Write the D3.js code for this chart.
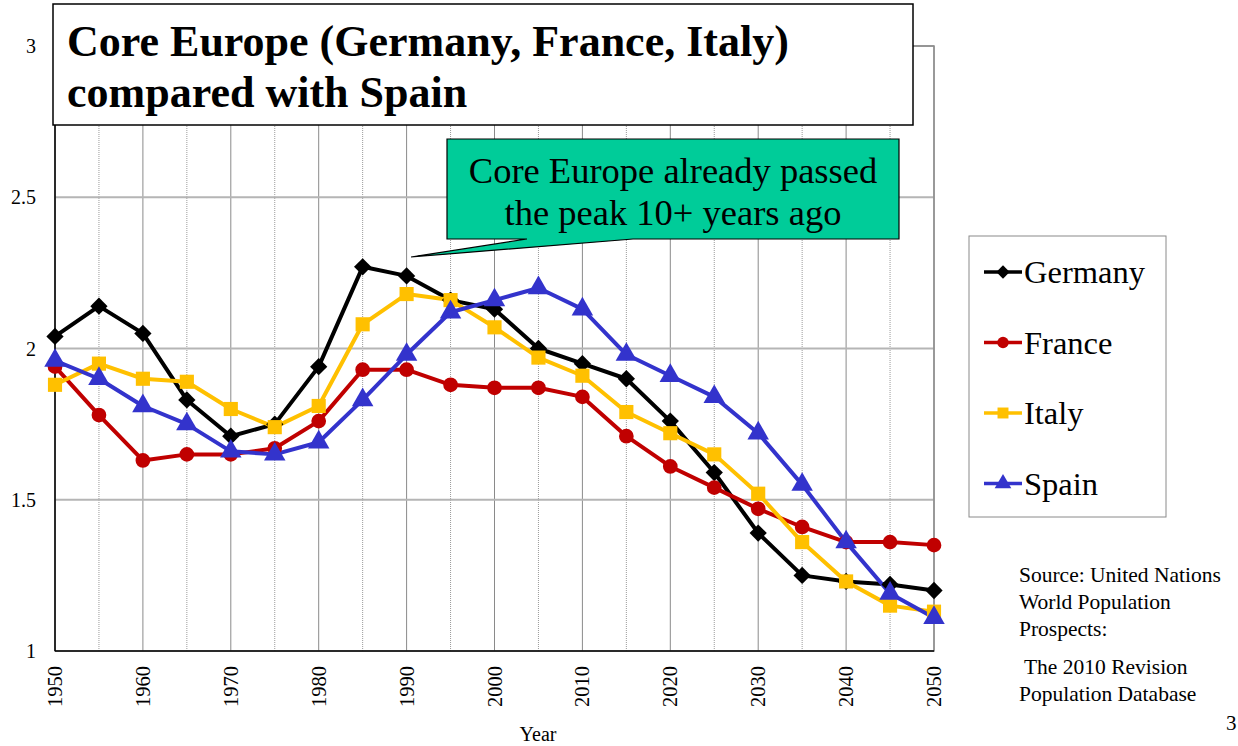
<!DOCTYPE html>
<html>
<head>
<meta charset="utf-8">
<script src="https://cdn.jsdelivr.net/npm/d3@7"></script>
<style>
  body { margin: 0; background: #fff; }
  svg { display: block; font-family: "Liberation Serif", "Times New Roman", serif; }
</style>
</head>
<body>
<svg width="1238" height="746"></svg>
<script>
// total fertility rate, UN WPP 2010 revision
var years = [1950,1955,1960,1965,1970,1975,1980,1985,1990,1995,2000,2005,2010,2015,2020,2025,2030,2035,2040,2045,2050];
var germany = [2.04,2.14,2.05,1.83,1.71,1.75,1.94,2.27,2.24,2.16,2.13,2.00,1.95,1.90,1.76,1.59,1.39,1.25,1.23,1.22,1.20];
var france  = [1.94,1.78,1.63,1.65,1.65,1.67,1.76,1.93,1.93,1.88,1.87,1.87,1.84,1.71,1.61,1.54,1.47,1.41,1.36,1.36,1.35];
var italy   = [1.88,1.95,1.90,1.89,1.80,1.74,1.81,2.08,2.18,2.16,2.07,1.97,1.91,1.79,1.72,1.65,1.52,1.36,1.23,1.15,1.13];
var spain   = [1.96,1.90,1.81,1.75,1.66,1.65,1.69,1.83,1.98,2.12,2.16,2.20,2.13,1.98,1.91,1.84,1.72,1.55,1.36,1.19,1.11];
var yTicks = [1, 1.5, 2, 2.5, 3];
var xTicks = [1950,1960,1970,1980,1990,2000,2010,2020,2030,2040,2050];

var series = [
  {name: "Germany", values: germany, color: "#000000", shape: d3.symbolDiamond2, size: 190},
  {name: "France",  values: france,  color: "#C00000", shape: d3.symbolCircle, size: 170},
  {name: "Italy",   values: italy,   color: "#FFC000", shape: d3.symbolSquare, size: 200},
  {name: "Spain",   values: spain,   color: "#3333CC", shape: d3.symbolTriangle, size: 200}
];

var svg = d3.select("svg");
var pLeft = 55, pRight = 934, pTop = 46, pBottom = 651;

var x = d3.scaleLinear().domain([1950, 2050]).range([pLeft, pRight]);
var y = d3.scaleLinear().domain([1, 3]).range([pBottom, pTop]);

// grid
var grid = svg.append("g");
grid.selectAll(".vg").data(d3.range(1955, 2051, 5)).enter().append("line")
    .attr("x1", function(d) { return x(d); }).attr("x2", function(d) { return x(d); })
    .attr("y1", pTop).attr("y2", pBottom)
    .attr("stroke", function(d) { return d % 10 === 0 ? "#8a8a8a" : "#9a9a9a"; })
    .attr("stroke-width", 1)
    .attr("stroke-dasharray", function(d) { return d % 10 === 0 ? null : "1,1"; });
grid.selectAll(".hg").data(yTicks.slice(1)).enter().append("line")
    .attr("x1", pLeft).attr("x2", pRight)
    .attr("y1", function(d) { return y(d); }).attr("y2", function(d) { return y(d); })
    .attr("stroke", "#b5b5b5").attr("stroke-width", 2);

// frame
svg.append("rect").attr("x", pLeft).attr("y", pTop).attr("width", pRight - pLeft).attr("height", pBottom - pTop)
    .attr("fill", "none").attr("stroke", "#8a8a8a").attr("stroke-width", 1.5);
svg.append("line").attr("x1", pLeft).attr("x2", pLeft).attr("y1", pTop).attr("y2", pBottom)
    .attr("stroke", "#000").attr("stroke-width", 1.5);
svg.append("line").attr("x1", pLeft).attr("x2", pRight).attr("y1", pBottom).attr("y2", pBottom)
    .attr("stroke", "#000").attr("stroke-width", 1.5);

// y axis labels
svg.selectAll(".yl").data(yTicks).enter().append("text")
    .attr("x", 36).attr("y", function(d) { return y(d) + 7; })
    .attr("text-anchor", "end").attr("font-size", 20)
    .text(function(d) { return d; });

// x axis labels, rotated
svg.selectAll(".xl").data(xTicks).enter().append("text")
    .attr("transform", function(d) { return "translate(" + (x(d) + 7) + ",666) rotate(-90)"; })
    .attr("text-anchor", "end").attr("font-size", 20.5)
    .text(function(d) { return d; });

svg.append("text").attr("x", 538).attr("y", 741).attr("text-anchor", "middle")
    .attr("font-size", 20).text("Year");

// lines + markers
var line = d3.line()
    .x(function(d, i) { return x(years[i]); })
    .y(function(d) { return y(d); });

series.forEach(function(s) {
  svg.append("path").datum(s.values)
      .attr("d", line).attr("fill", "none")
      .attr("stroke", s.color).attr("stroke-width", 4).attr("stroke-linejoin", "round");
});
series.forEach(function(s) {
  svg.selectAll(null).data(s.values).enter().append("path")
      .attr("d", d3.symbol().type(s.shape).size(s.size))
      .attr("transform", function(d, i) { return "translate(" + x(years[i]) + "," + y(d) + ")"; })
      .attr("fill", s.color);
});

// title box
svg.append("rect").attr("x", 53).attr("y", 4).attr("width", 860).attr("height", 121)
    .attr("fill", "#fff").attr("stroke", "#000").attr("stroke-width", 1.5);
svg.append("text").attr("x", 67).attr("y", 56).attr("font-size", 44).attr("font-weight", "bold")
    .text("Core Europe (Germany, France, Italy)");
svg.append("text").attr("x", 67).attr("y", 107).attr("font-size", 44).attr("font-weight", "bold")
    .text("compared with Spain");

// callout
svg.append("polygon").attr("points", "447,139 899,139 899,239 633,239 411,257 527,239 447,239")
    .attr("fill", "#00CC99").attr("stroke", "#000").attr("stroke-width", 1.2);
svg.append("text").attr("x", 673).attr("y", 183).attr("text-anchor", "middle").attr("font-size", 36.5)
    .text("Core Europe already passed");
svg.append("text").attr("x", 673).attr("y", 225).attr("text-anchor", "middle").attr("font-size", 36.5)
    .text("the peak 10+ years ago");

// legend
var legend = svg.append("g");
legend.append("rect").attr("x", 969).attr("y", 236).attr("width", 197).attr("height", 281)
    .attr("fill", "#fff").attr("stroke", "#8a8a8a").attr("stroke-width", 1);
series.forEach(function(s, i) {
  var ly = 272 + i * 70.5;
  legend.append("line").attr("x1", 984).attr("x2", 1022).attr("y1", ly).attr("y2", ly)
      .attr("stroke", s.color).attr("stroke-width", 3.5);
  legend.append("path").attr("d", d3.symbol().type(s.shape).size(s.size * 0.6))
      .attr("transform", "translate(1003," + ly + ")").attr("fill", s.color);
  legend.append("text").attr("x", 1024).attr("y", ly + 11).attr("font-size", 32.5).text(s.name);
});

// source note
var src = ["Source: United Nations", "World Population", "Prospects:"];
src.forEach(function(t, i) {
  svg.append("text").attr("x", 1019).attr("y", 582 + i * 27).attr("font-size", 21.5).text(t);
});
svg.append("text").attr("x", 1019).attr("y", 674).attr("font-size", 21.5).attr("xml:space", "preserve").text(" The 2010 Revision");
svg.append("text").attr("x", 1019).attr("y", 701).attr("font-size", 21.5).text("Population Database");

svg.append("text").attr("x", 1226).attr("y", 730).attr("font-size", 21).text("3");
</script>
</body>
</html>
